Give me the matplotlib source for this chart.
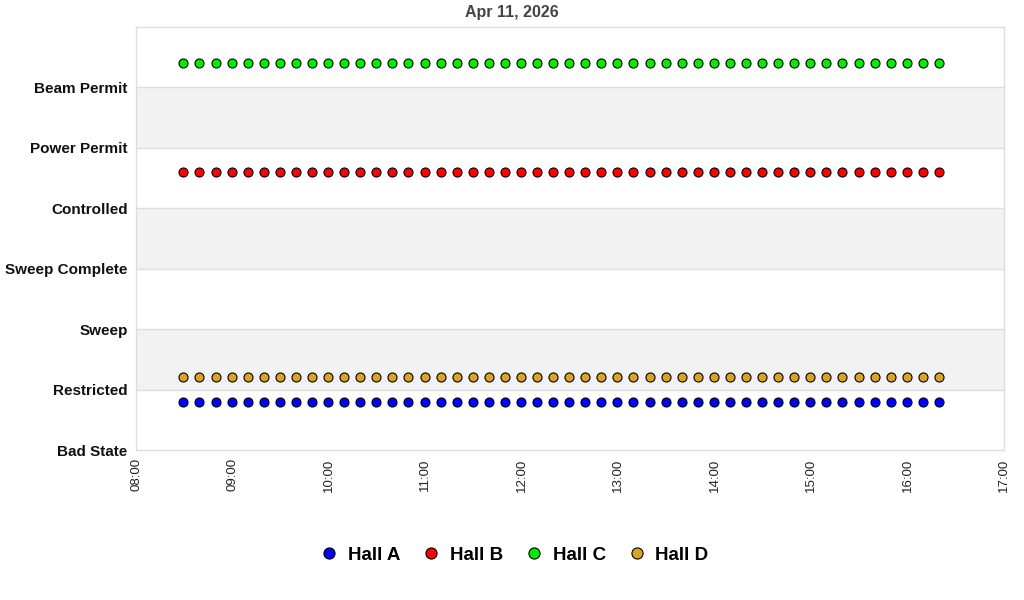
import matplotlib
matplotlib.use("Agg")
import matplotlib.pyplot as plt
from matplotlib.lines import Line2D
import datetime as dt

plt.rcParams['font.family'] = ['Liberation Sans', 'DejaVu Sans']

title = "Apr 11, 2026"
states = ["Bad State", "Restricted", "Sweep", "Sweep Complete",
          "Controlled", "Power Permit", "Beam Permit"]
times = [
    "08:29:30", "08:39:30", "08:49:30", "08:59:30", "09:09:30", "09:19:30",
    "09:29:30", "09:39:30", "09:49:30", "09:59:30", "10:09:30", "10:19:30",
    "10:29:30", "10:39:30", "10:49:30", "10:59:30", "11:09:30", "11:19:30",
    "11:29:30", "11:39:30", "11:49:30", "11:59:30", "12:09:30", "12:19:30",
    "12:29:30", "12:39:30", "12:49:30", "12:59:30", "13:09:30", "13:19:30",
    "13:29:30", "13:39:30", "13:49:30", "13:59:30", "14:09:30", "14:19:30",
    "14:29:30", "14:39:30", "14:49:30", "14:59:30", "15:09:30", "15:19:30",
    "15:29:30", "15:39:30", "15:49:30", "15:59:30", "16:09:30", "16:19:30",
]
hall_a = [0.8, 0.8, 0.8, 0.8, 0.8, 0.8, 0.8, 0.8, 0.8, 0.8, 0.8, 0.8,
          0.8, 0.8, 0.8, 0.8, 0.8, 0.8, 0.8, 0.8, 0.8, 0.8, 0.8, 0.8,
          0.8, 0.8, 0.8, 0.8, 0.8, 0.8, 0.8, 0.8, 0.8, 0.8, 0.8, 0.8,
          0.8, 0.8, 0.8, 0.8, 0.8, 0.8, 0.8, 0.8, 0.8, 0.8, 0.8, 0.8]
hall_b = [4.6, 4.6, 4.6, 4.6, 4.6, 4.6, 4.6, 4.6, 4.6, 4.6, 4.6, 4.6,
          4.6, 4.6, 4.6, 4.6, 4.6, 4.6, 4.6, 4.6, 4.6, 4.6, 4.6, 4.6,
          4.6, 4.6, 4.6, 4.6, 4.6, 4.6, 4.6, 4.6, 4.6, 4.6, 4.6, 4.6,
          4.6, 4.6, 4.6, 4.6, 4.6, 4.6, 4.6, 4.6, 4.6, 4.6, 4.6, 4.6]
hall_c = [6.4, 6.4, 6.4, 6.4, 6.4, 6.4, 6.4, 6.4, 6.4, 6.4, 6.4, 6.4,
          6.4, 6.4, 6.4, 6.4, 6.4, 6.4, 6.4, 6.4, 6.4, 6.4, 6.4, 6.4,
          6.4, 6.4, 6.4, 6.4, 6.4, 6.4, 6.4, 6.4, 6.4, 6.4, 6.4, 6.4,
          6.4, 6.4, 6.4, 6.4, 6.4, 6.4, 6.4, 6.4, 6.4, 6.4, 6.4, 6.4]
hall_d = [1.2, 1.2, 1.2, 1.2, 1.2, 1.2, 1.2, 1.2, 1.2, 1.2, 1.2, 1.2,
          1.2, 1.2, 1.2, 1.2, 1.2, 1.2, 1.2, 1.2, 1.2, 1.2, 1.2, 1.2,
          1.2, 1.2, 1.2, 1.2, 1.2, 1.2, 1.2, 1.2, 1.2, 1.2, 1.2, 1.2,
          1.2, 1.2, 1.2, 1.2, 1.2, 1.2, 1.2, 1.2, 1.2, 1.2, 1.2, 1.2]
series_names = ["Hall A", "Hall B", "Hall C", "Hall D"]
series_colors = ["#0000ff", "#ff0000", "#00ee00", "#daa520"]
x_ticks = ["08:00", "09:00", "10:00", "11:00", "12:00", "13:00",
           "14:00", "15:00", "16:00", "17:00"]

day = dt.date(2026, 4, 11)
def to_dt(s):
    fmt = "%H:%M:%S" if s.count(":") == 2 else "%H:%M"
    return dt.datetime.combine(day, dt.datetime.strptime(s, fmt).time())

xs = [to_dt(t) for t in times]
tick_dts = [to_dt(t) for t in x_ticks]

fig = plt.figure(figsize=(10.24, 6.0), dpi=100)
ax = fig.add_axes([136/1024, 1 - 450/600, (1004-136)/1024, (450-27)/600])

ax.set_xlim(tick_dts[0], tick_dts[-1])
ax.set_ylim(0, 7)

# alternating bands
for lo in (1, 3, 5):
    ax.axhspan(lo, lo + 1, color="#f2f2f2", zorder=0, lw=0)
for y in range(1, 7):
    ax.axhline(y, color="#dddddd", lw=1, zorder=0.5)

for vals, name, col in zip([hall_a, hall_b, hall_c, hall_d], series_names, series_colors):
    ax.plot(xs, vals, linestyle="none", marker="o", markersize=6.5,
            markerfacecolor=col, markeredgecolor="black", markeredgewidth=0.8,
            zorder=3, label=name)

ax.set_yticks(range(len(states)))
ax.set_yticklabels(states, fontsize=11, fontweight="bold", color="#111111")
ax.set_xticks(tick_dts)
ax.set_xticklabels(x_ticks, rotation=90, fontsize=9.5, color="#222222")
ax.tick_params(axis="both", length=0)
ax.tick_params(axis="y", pad=6)
ax.tick_params(axis="x", pad=6)
for sp in ax.spines.values():
    sp.set_color("#dddddd")
    sp.set_linewidth(1)

fig.text(512/1024, 1 - 13/600, title, ha="center", va="center",
         fontsize=11.5, fontweight="bold", color="#444444")

handles = [Line2D([], [], linestyle="none", marker="o", markersize=8,
                  markerfacecolor=c, markeredgecolor="black", markeredgewidth=0.8)
           for c in series_colors]
fig.legend(handles, series_names, loc="center", bbox_to_anchor=(514/1024, 1 - 555/600),
           ncol=4, frameon=False, prop={"weight": "bold", "size": 13.5},
           handletextpad=0.5, columnspacing=1.15, handlelength=1.0)

fig.savefig("out.png", dpi=100)
